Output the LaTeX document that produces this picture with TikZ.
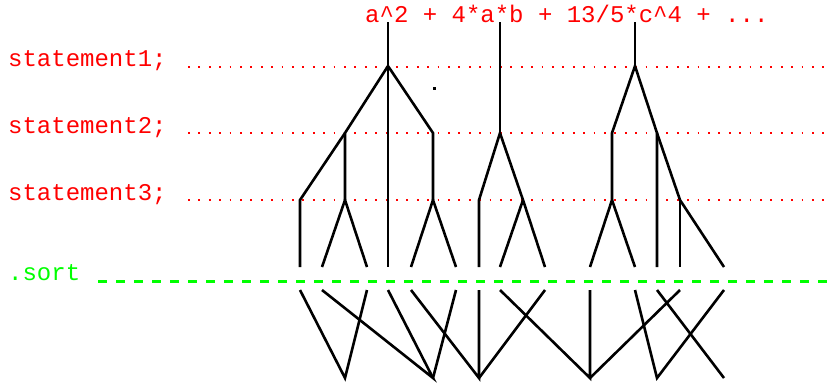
\documentclass[tikz,border=0pt]{standalone}
\usepackage{fontspec}
\setmonofont{Liberation Mono}
\definecolor{stred}{rgb}{1,0,0}
\definecolor{sortgreen}{rgb}{0,1,0}
\begin{document}
\begin{tikzpicture}[x=1pt,y=-1pt,
  lbl/.style={anchor=base west,inner sep=0pt,font=\fontsize{24}{28}\selectfont\ttfamily},
  branch/.style={line width=2.6pt,black,line join=miter},
  stmtline/.style={stred,line width=2.2pt,dash pattern=on 1.8pt off 8.6pt},
  sortline/.style={sortgreen,line width=3pt,dash pattern=on 9pt off 9pt}]
\useasboundingbox (0,0) rectangle (827,383);
% texts
\node[lbl,text=stred] (expr) at (365,22.5) {a\textasciicircum 2 + 4*a*b + 13/5*c\textasciicircum 4 + ...};
\node[lbl,text=stred] (s1) at (8,66) {statement1;};
\node[lbl,text=stred] (s2) at (8,133) {statement2;};
\node[lbl,text=stred] (s3) at (8,200) {statement3;};
\node[lbl,text=sortgreen] (sort) at (8,280) {.sort};
% guide lines
\coordinate (g1a) at (188,67); \coordinate (g1b) at (827,67);
\coordinate (g2a) at (188,133); \coordinate (g2b) at (827,133);
\coordinate (g3a) at (188,200); \coordinate (g3b) at (827,200);
\coordinate (gsa) at (98,281); \coordinate (gsb) at (827,281);
\draw[stmtline] (g1a) -- (g1b);
\draw[stmtline] (g2a) -- (g2b);
\draw[stmtline] (g3a) -- (g3b);
\draw[sortline] (gsa) -- (gsb);
% roots
\coordinate (r1) at (388,22); \coordinate (r2) at (500,22); \coordinate (r3) at (635,22);
% level 1
\coordinate (a1) at (388,66); \coordinate (a3) at (635,66);
% level 2
\coordinate (b1L) at (345,133); \coordinate (b1R) at (433,133); \coordinate (b2) at (500,133);
\coordinate (b3L) at (612,133); \coordinate (b3R) at (657,133);
% level 3
\coordinate (c1) at (300,200); \coordinate (c2) at (345,200); \coordinate (c3) at (433,200);
\coordinate (c4) at (479,200); \coordinate (c5) at (523,200); \coordinate (c6) at (612,200);
\coordinate (c7) at (680,200);
% leaves above and below .sort
\foreach \i/\x in {1/300,2/322,3/367,4/388,5/411,6/456,7/479,8/500,9/545,10/590,11/635,12/657,13/680,14/724}{
  \coordinate (l\i) at (\x,267);
  \coordinate (m\i) at (\x,290);
}
% bottom ends
\coordinate (e1) at (345,378); \coordinate (e2) at (433,378); \coordinate (e3) at (479,378);
\coordinate (e4) at (590,378); \coordinate (e5) at (657,378); \coordinate (e6) at (724,378);
% tree 1
\draw[branch] (r1) -- (a1) -- (l4);
\draw[branch] (a1) -- (b1L) -- (c2);
\draw[branch] (l1) -- (c1) -- (b1L);
\draw[branch] (l2) -- (c2) -- (l3);
\draw[branch] (a1) -- (b1R) -- (c3);
\draw[branch] (l5) -- (c3) -- (l6);
% tree 2
\draw[branch] (r2) -- (b2);
\draw[branch] (l7) -- (c4) -- (b2) -- (c5) -- (l9);
\draw[branch] (c5) -- (l8);
% tree 3
\draw[branch] (r3) -- (a3);
\draw[branch] (l10) -- (c6) -- (b3L) -- (a3) -- (b3R) -- (l12);
\draw[branch] (c6) -- (l11);
\draw[branch] (b3R) -- (c7) -- (l14);
\draw[branch] (c7) -- (l13);
% stray dot
\fill[black] (432.5,86.5) rectangle (435.5,89.5);
% after .sort
\draw[branch] (m1) -- (e1) -- (m3);
\draw[branch] (m2) -- (e2) -- (m4);
\draw[branch] (e2) -- (m6);
\draw[branch] (m5) -- (e3) -- (m7);
\draw[branch] (e3) -- (m9);
\draw[branch] (m8) -- (e4) -- (m10);
\draw[branch] (e4) -- (m13);
\draw[branch] (m11) -- (e5) -- (m14);
\draw[branch] (m12) -- (e6);
\end{tikzpicture}
\end{document}
